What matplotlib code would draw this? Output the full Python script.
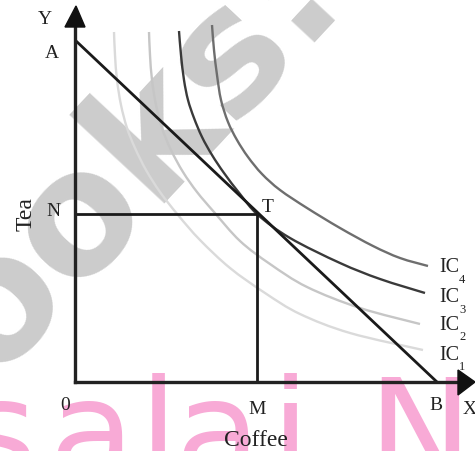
import numpy as np
import matplotlib
matplotlib.use("Agg")
import matplotlib.pyplot as plt
from matplotlib.path import Path
from matplotlib.patches import PathPatch, Polygon

# ---------------- data (quantities of coffee X, tea Y) ----------------
budget_x = [0, 362]          # A on Y axis, B on X axis
budget_y = [342, 0]
point_T = (182, 168)         # tangency point
point_N = (0, 168)
point_M = (182, 0)

ic1_x = [39, 40, 42, 46, 52, 60, 71, 85, 103, 125, 155, 190, 225, 275, 348]
ic1_y = [350, 327, 302, 277, 254, 234, 212, 190, 167, 142, 114, 89, 68, 49, 32]
ic2_x = [74, 75, 77, 81, 87, 96, 108, 122, 139, 165, 195, 232, 285, 345]
ic2_y = [350, 327, 302, 277, 254, 232, 210, 190, 170, 141, 118, 95, 74, 58]
ic3_x = [104, 106, 109, 113, 119, 127, 137, 149, 165, 183, 215, 265, 305, 350]
ic3_y = [351, 327, 302, 282, 264, 245, 227, 209, 188, 167, 144, 119, 103, 89]
ic4_x = [137, 139, 142, 146, 153, 162, 173, 187, 205, 232, 265, 298, 325, 353]
ic4_y = [357, 332, 307, 282, 260, 242, 225, 208, 192, 174, 154, 136, 124, 116]

ic_names = ["1", "2", "3", "4"]

# ---------------- figure ----------------
fig = plt.figure(figsize=(4.75, 4.51), dpi=100)
ax = fig.add_axes([0, 0, 1, 1])
ax.set_xlim(-75, 400)
ax.set_ylim(-69, 382)
ax.axis("off")

SERIF = ["Liberation Serif", "DejaVu Serif"]
TXT = "#222222"

# watermarks (background)
ax.text(-82, 2, "ooks:", rotation=47, rotation_mode="anchor", ha="left",
        va="baseline", fontsize=123, fontweight="bold", color="#cccccc",
        family="DejaVu Sans", zorder=0)
pink = "#f8aad6"
for ch, xc in zip(["s", "a", "l", "a", "i", "N"], [0, 92, 158, 218, 290, 420]):
    ax.text(xc - 75, 382 - 480, ch, ha="center", va="baseline", fontsize=101,
            color=pink, family="DejaVu Sans", zorder=0, clip_on=False)


def smooth_path(xs, ys):
    P = np.column_stack([xs, ys]).astype(float)
    n = len(P)
    verts = [P[0]]
    codes = [Path.MOVETO]
    for i in range(n - 1):
        p0 = P[i - 1] if i > 0 else P[i]
        p1 = P[i]
        p2 = P[i + 1]
        p3 = P[i + 2] if i + 2 < n else P[i + 1]
        c1 = p1 + (p2 - p0) / 6.0
        c2 = p2 - (p3 - p1) / 6.0
        verts += [c1, c2, p2]
        codes += [Path.CURVE4] * 3
    return Path(verts, codes)


ic_data = [(ic1_x, ic1_y, "#dadada"), (ic2_x, ic2_y, "#c6c6c6"),
           (ic3_x, ic3_y, "#3a3a3a"), (ic4_x, ic4_y, "#6e6e6e")]
for xs, ys, col in ic_data:
    ax.add_patch(PathPatch(smooth_path(xs, ys), fill=False, edgecolor=col,
                           lw=1.7, capstyle="butt", zorder=2))

# budget line
ax.plot(budget_x, budget_y, color="#1a1a1a", lw=2.0, zorder=3,
        solid_capstyle="butt")
# N-T and T-M
ax.plot([point_N[0], point_T[0]], [point_N[1], point_T[1]], color="#1a1a1a",
        lw=2.0, zorder=3, solid_capstyle="butt")
ax.plot([point_M[0], point_T[0]], [point_M[1], point_T[1]], color="#1a1a1a",
        lw=2.0, zorder=3, solid_capstyle="butt")

# axes with arrows
ax.plot([0, 0], [0, 360], color="#222222", lw=2.4, zorder=4,
        solid_capstyle="projecting")
ax.plot([0, 385], [0, 0], color="#222222", lw=2.4, zorder=4,
        solid_capstyle="projecting")
ax.add_patch(Polygon([[-10, 355], [10, 355], [1, 376]], closed=True,
                     color="#111111", zorder=5))
ax.add_patch(Polygon([[383, 12], [383, -13], [400, 0]], closed=True,
                     color="#111111", zorder=5))

# labels
def lab(x, y, s, size=14, **kw):
    ax.text(x, y, s, fontsize=size, family=SERIF, color=TXT, ha="center",
            va="center", zorder=6, **kw)

lab(-30, 362, "Y")
lab(-23, 329, "A")
lab(-22, 170, "N")
lab(-49, 168, "Tea", size=17, rotation=90)
lab(193, 175, "T")
lab(-10, -23, "0")
lab(182, -27, "M")
lab(181, -58, "Coffee", size=17)
lab(361, -23, "B")
lab(395, -28, "X")

ic_label_y = [27, 57, 84, 114]
for name, yy in zip(ic_names, ic_label_y):
    ax.text(364, yy, "IC", fontsize=14.5, family=SERIF, color=TXT,
            ha="left", va="center", zorder=6)
    ax.text(384, yy - 12, name, fontsize=9, family=SERIF, color=TXT,
            ha="left", va="center", zorder=6)

fig.savefig("out.png", dpi=100)
